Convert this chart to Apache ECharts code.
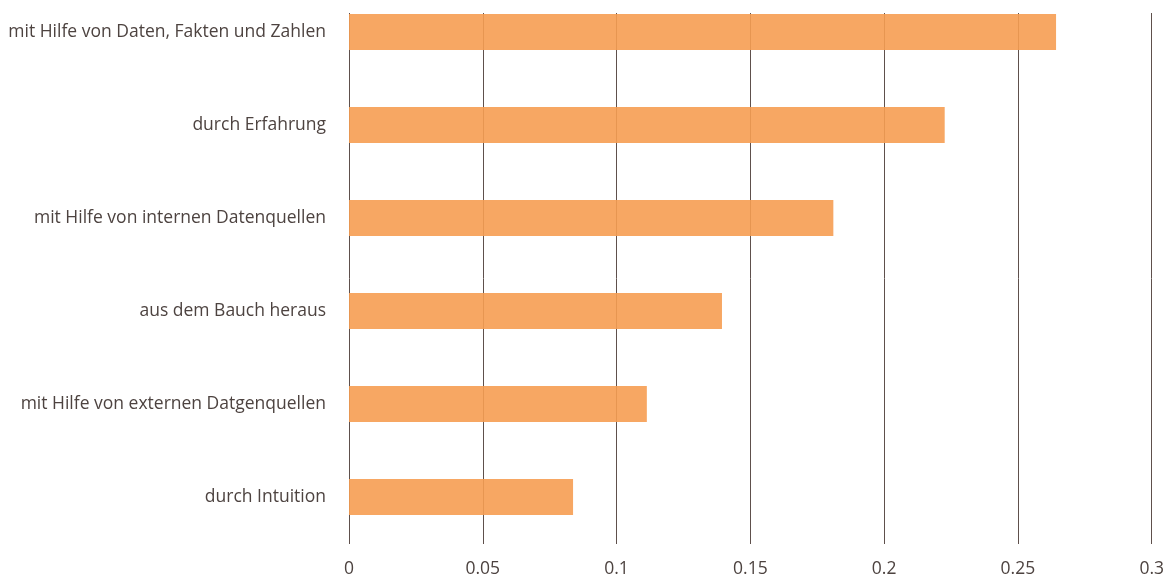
<!DOCTYPE html>
<html><head><meta charset="utf-8">
<script src="https://cdn.jsdelivr.net/npm/echarts@6/dist/echarts.min.js"></script>
<style>html,body{margin:0;padding:0;background:#fff;overflow:hidden;width:1167px;height:578px;position:relative}#c{position:absolute;left:0;top:-30px;width:1167px;height:608px}</style>
</head><body><div id="c"></div>
<script>
const categories = ["mit Hilfe von Daten, Fakten und Zahlen","durch Erfahrung","mit Hilfe von internen Datenquellen","aus dem Bauch heraus","mit Hilfe von externen Datgenquellen","durch Intuition"];
const values = [0.2635, 0.222, 0.1805, 0.139, 0.111, 0.0835];
const xTicks = [0, 0.05, 0.1, 0.15, 0.2, 0.25, 0.3];
const font = '"Open Sans", sans-serif';
const chart = echarts.init(document.getElementById('c'), null, {renderer:'canvas'});
chart.setOption({
  animation:false,
  grid:[
    {left:349, right:13, top:43, bottom:30},
    {left:349, right:13, top:15.5, height:558}
  ],
  xAxis:[
    {gridIndex:0, type:'value', min:0, max:0.3, interval:0.05,
     axisLine:{show:false}, axisTick:{show:false},
     splitLine:{show:true, lineStyle:{color:'#5e504c', width:1}},
     axisLabel:{margin:16, color:'#4d4340', fontSize:17.5, fontFamily:font,
       formatter:v=>{const t=xTicks.find(x=>Math.abs(x-v)<1e-9);return t===undefined?'':String(t);}}},
    {gridIndex:1, type:'value', min:0, max:0.3, show:false}
  ],
  yAxis:[
    {gridIndex:0, type:'value', min:0, max:1, show:false},
    {gridIndex:1, type:'category', data:categories, inverse:true,
     axisLine:{show:false}, axisTick:{show:false}, splitLine:{show:false},
     axisLabel:{margin:23, color:'#4d4340', fontSize:17.5, fontFamily:font}}
  ],
  series:[{
    type:'bar', xAxisIndex:1, yAxisIndex:1, data:values, barWidth:36,
    itemStyle:{color:'rgba(246,157,82,0.9)'}, z:3
  }]
});
</script></body></html>
